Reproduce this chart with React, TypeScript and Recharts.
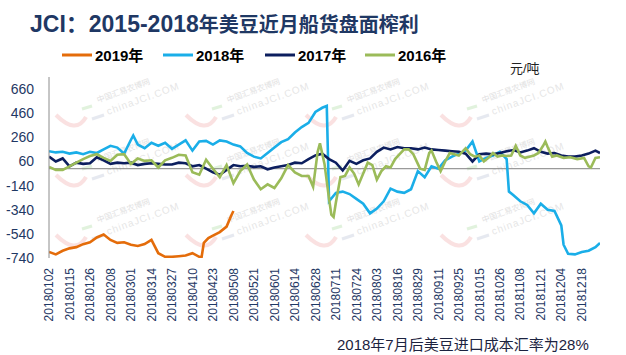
import React from 'react';
import { LineChart, Line, XAxis, YAxis, ReferenceLine } from 'recharts';

// x = trading-day index in 2018 (0 = 20180102), y = 元/吨
const xTickIdx = [0, 9, 18, 27, 36, 45, 54, 63, 72, 81, 90, 99, 108, 117, 126, 135, 144, 153, 162, 171, 180, 189, 198, 207, 216, 225, 234];
const xTickLabels = ['20180102', '20180115', '20180126', '20180208', '20180301', '20180314', '20180327', '20180410', '20180423', '20180508', '20180521', '20180601', '20180614', '20180628', '20180711', '20180724', '20180803', '20180816', '20180829', '20180911', '20180925', '20181015', '20181026', '20181108', '20181121', '20181204', '20181218'];
const yTicks = [-740, -540, -340, -140, 60, 260, 460, 660];

const s2019: [number, number][] = [
  [0, -690], [3, -710], [6, -680], [9, -660], [12, -650], [15, -625], [18, -610], [21, -570], [24, -545], [27, -590],
  [30, -615], [33, -610], [36, -630], [39, -640], [42, -625], [45, -590], [48, -700], [51, -730], [54, -730], [57, -725],
  [60, -720], [63, -700], [66, -730], [67, -735], [68, -615], [70, -575], [72, -555], [75, -525], [78, -480], [80, -390], [81, -350],
];

const s2018: [number, number][] = [
  [0, 145], [3, 135], [6, 140], [9, 125], [12, 135], [15, 120], [18, 140], [21, 130], [24, 160], [27, 190],
  [30, 175], [33, 125], [36, 240], [37, 275], [39, 200], [42, 170], [45, 215], [48, 190], [51, 215], [54, 165],
  [57, 200], [60, 235], [63, 150], [66, 225], [69, 230], [72, 200], [75, 235], [78, 225], [81, 200], [84, 185],
  [87, 130], [90, 100], [93, 85], [96, 130], [99, 175], [102, 220], [105, 245], [108, 300], [111, 345], [114, 380],
  [117, 470], [120, 505], [122, 520], [123, -270], [126, -200], [129, -190], [132, -210], [135, -250], [138, -290], [141, -370],
  [144, -330], [147, -270], [150, -165], [153, -190], [156, -200], [159, -170], [162, -20], [165, -70], [168, 20], [171, 0],
  [174, 70], [177, 100], [180, 125], [183, 150], [186, 225], [189, 60], [192, 90], [195, 110], [198, 140], [201, 80],
  [202, -190], [204, -220], [207, -270], [210, -300], [213, -370], [216, -290], [219, -340], [222, -350], [225, -470], [226, -630],
  [228, -705], [231, -710], [234, -690], [237, -680], [240, -650], [242, -615],
];

const s2017: [number, number][] = [
  [0, 100], [3, 60], [6, 85], [9, 20], [12, 50], [15, 40], [18, 45], [21, 95], [24, 70], [27, 40],
  [30, 50], [33, 45], [36, 50], [39, 30], [42, 40], [45, 45], [48, 40], [51, 35], [54, 35], [57, 50],
  [60, 45], [63, 20], [66, 30], [69, 0], [72, -30], [75, -50], [78, -10], [81, 30], [84, 20], [87, 25],
  [90, 15], [93, 20], [96, -5], [99, 10], [102, 20], [105, 30], [108, 50], [111, 45], [114, 80], [117, 110],
  [120, 125], [123, 80], [126, 50], [129, -15], [132, 65], [135, 40], [138, 70], [141, 85], [144, 140], [147, 175],
  [150, 160], [153, 180], [156, 170], [159, 170], [162, 160], [165, 175], [168, 160], [171, 155], [174, 150], [177, 145],
  [180, 140], [183, 125], [186, 60], [189, 120], [192, 125], [195, 120], [198, 130], [201, 145], [204, 155], [207, 135],
  [210, 150], [213, 170], [216, 140], [219, 125], [222, 130], [225, 110], [228, 100], [231, 100], [234, 110], [237, 125],
  [240, 150], [242, 130],
];

const s2016: [number, number][] = [
  [0, 15], [3, -10], [6, -10], [9, 20], [12, 50], [15, 80], [18, 105], [21, 120], [24, 90], [27, 65],
  [30, 115], [33, 120], [36, 40], [39, 85], [42, 65], [45, 70], [48, 10], [51, 70], [54, 90], [57, 115],
  [60, 110], [63, -30], [66, -50], [69, 75], [72, 0], [75, -70], [78, 30], [81, -120], [84, -20], [87, 35],
  [90, -90], [93, -170], [96, -130], [99, -160], [102, -80], [105, 30], [108, -30], [111, -60], [114, -60], [116, -150],
  [118, 140], [119, 210], [121, 40], [123, -250], [124, -380], [125, -400], [126, -280], [128, -70], [130, -60], [132, 10],
  [134, -40], [136, -130], [138, -40], [140, 50], [142, 30], [144, -90], [146, -20], [148, 20], [150, 10], [152, 80],
  [154, 120], [156, 160], [158, 160], [160, 120], [162, 40], [163, 0], [165, -10], [167, 130], [168, 150], [170, 60],
  [172, -20], [174, 60], [176, 130], [178, 120], [180, 110], [183, 170], [185, 120], [187, 100], [189, 110], [191, 60],
  [193, 90], [195, 130], [197, 100], [199, 110], [201, 105], [203, 110], [205, 190], [207, 110], [209, 90], [211, 100],
  [213, 110], [215, 130], [217, 190], [218, 225], [219, 180], [221, 100], [223, 110], [226, 90], [229, 95], [232, 80],
  [235, 90], [237, 20], [238, 10], [240, 90], [242, 95],
];

const toRows = (s: [number, number][]) => s.map(([i, v]) => ({ i, v }));

const series = [
  { name: '2019年', color: '#E46C0A', data: toRows(s2019) },
  { name: '2018年', color: '#1AAEE8', data: toRows(s2018) },
  { name: '2017年', color: '#0C1E5E', data: toRows(s2017) },
  { name: '2016年', color: '#9BBB59', data: toRows(s2016) },
];

const legendX = [62, 163, 265, 365];

const NAVY = '#1F3864';
const FONT = "'Liberation Sans', 'Noto Sans CJK SC', sans-serif";

const XTick = (props: any) => {
  const { x, payload } = props;
  const k = xTickIdx.indexOf(payload.value);
  const y = 268;
  return (
    <text x={x} y={y} transform={`rotate(-90 ${x} ${y})`} textAnchor="end" dy="0.35em" fill={NAVY} fontSize={12} fontFamily={FONT}>
      {k >= 0 ? xTickLabels[k] : ''}
    </text>
  );
};

const wmCols = [70, 200, 320, 455];
const wmRows = [123, 183, 243];

const Watermarks = () => (
  <svg width={626} height={355} style={{ position: 'absolute', left: 0, top: 0 }}>
    {wmRows.map((sy) =>
      wmCols.map((sx) => (
        <g key={`${sx}-${sy}`} opacity={0.45}>
          <path d={`M ${sx - 14} ${sy - 8} Q ${sx + 6} ${sy + 12} ${sx + 16} ${sy - 6}`} stroke="#F4BDBD" strokeWidth={4} fill="none" />
          <line x1={sx + 12} y1={sy - 14} x2={sx + 22} y2={sy - 17} stroke="#BDE3B5" strokeWidth={3} />
          <text x={sx + 28} y={sy - 20} transform={`rotate(-20 ${sx + 28} ${sy - 20})`} fontSize={8} fill="#BDBDBD" fontFamily={FONT}>中国汇易农博网</text>
          <line x1={sx + 22} y1={sy - 4} x2={sx + 34} y2={sy - 8} stroke="#C9CFE0" strokeWidth={3} />
          <text x={sx + 38} y={sy - 8} transform={`rotate(-20 ${sx + 38} ${sy - 8})`} fontSize={10} letterSpacing={1} fill="#C8C8C8" fontFamily={FONT}>chinaJCI.COM</text>
        </g>
      ))
    )}
  </svg>
);

const Overlay = () => (
  <svg width={626} height={355} style={{ position: 'absolute', left: 0, top: 0, pointerEvents: 'none' }}>
    <text x={30} y={32} fill={NAVY} fontWeight="bold" fontFamily={FONT}>
      <tspan fontSize={23}>JCI：2015-2018</tspan>
      <tspan fontSize={20}>年美豆近月船货盘面榨利</tspan>
    </text>
    {series.map((s, k) => (
      <g key={s.name}>
        <line x1={legendX[k]} y1={55} x2={legendX[k] + 30} y2={55} stroke={s.color} strokeWidth={3} />
        <text x={legendX[k] + 33} y={61} fontSize={15} fontWeight="bold" fill="#000" fontFamily={FONT}>{s.name}</text>
      </g>
    ))}
    <text x={510} y={73} fontSize={13} fill="#222" fontFamily={FONT}>元/吨</text>
    <text x={337} y={350} fontSize={15} fill="#1C2340" fontFamily={FONT}>2018年7月后美豆进口成本汇率为28%</text>
  </svg>
);

export default function App() {
  return (
    <div style={{ position: 'absolute', left: 0, top: 0, width: 626, height: 355, background: '#fff', overflow: 'hidden' }}>
      <Watermarks />
      <div style={{ position: 'absolute', left: 0, top: 0 }}>
        <LineChart width={626} height={355} margin={{ top: 77, right: 26, bottom: 0, left: 0 }}>
          <XAxis
            type="number"
            dataKey="i"
            domain={[0, 242]}
            ticks={xTickIdx}
            interval={0}
            axisLine={false}
            tickLine={false}
            tick={<XTick />}
            height={97}
            allowDataOverflow
          />
          <YAxis
            type="number"
            domain={[-740, 760]}
            ticks={yTicks}
            interval={0}
            width={49}
            axisLine={{ stroke: '#8C8C8C', strokeWidth: 1 }}
            tickLine={false}
            tickSize={0}
            tickMargin={15}
            tick={{ fill: NAVY, fontSize: 14, fontFamily: FONT }}
            allowDataOverflow
          />
          <ReferenceLine y={0} stroke="#808080" strokeWidth={1} />
          {series.map((s) => (
            <Line
              key={s.name}
              data={s.data}
              dataKey="v"
              name={s.name}
              type="linear"
              stroke={s.color}
              strokeWidth={2.6}
              dot={false}
              activeDot={false}
              isAnimationActive={false}
            />
          ))}
        </LineChart>
      </div>
      <Overlay />
    </div>
  );
}
